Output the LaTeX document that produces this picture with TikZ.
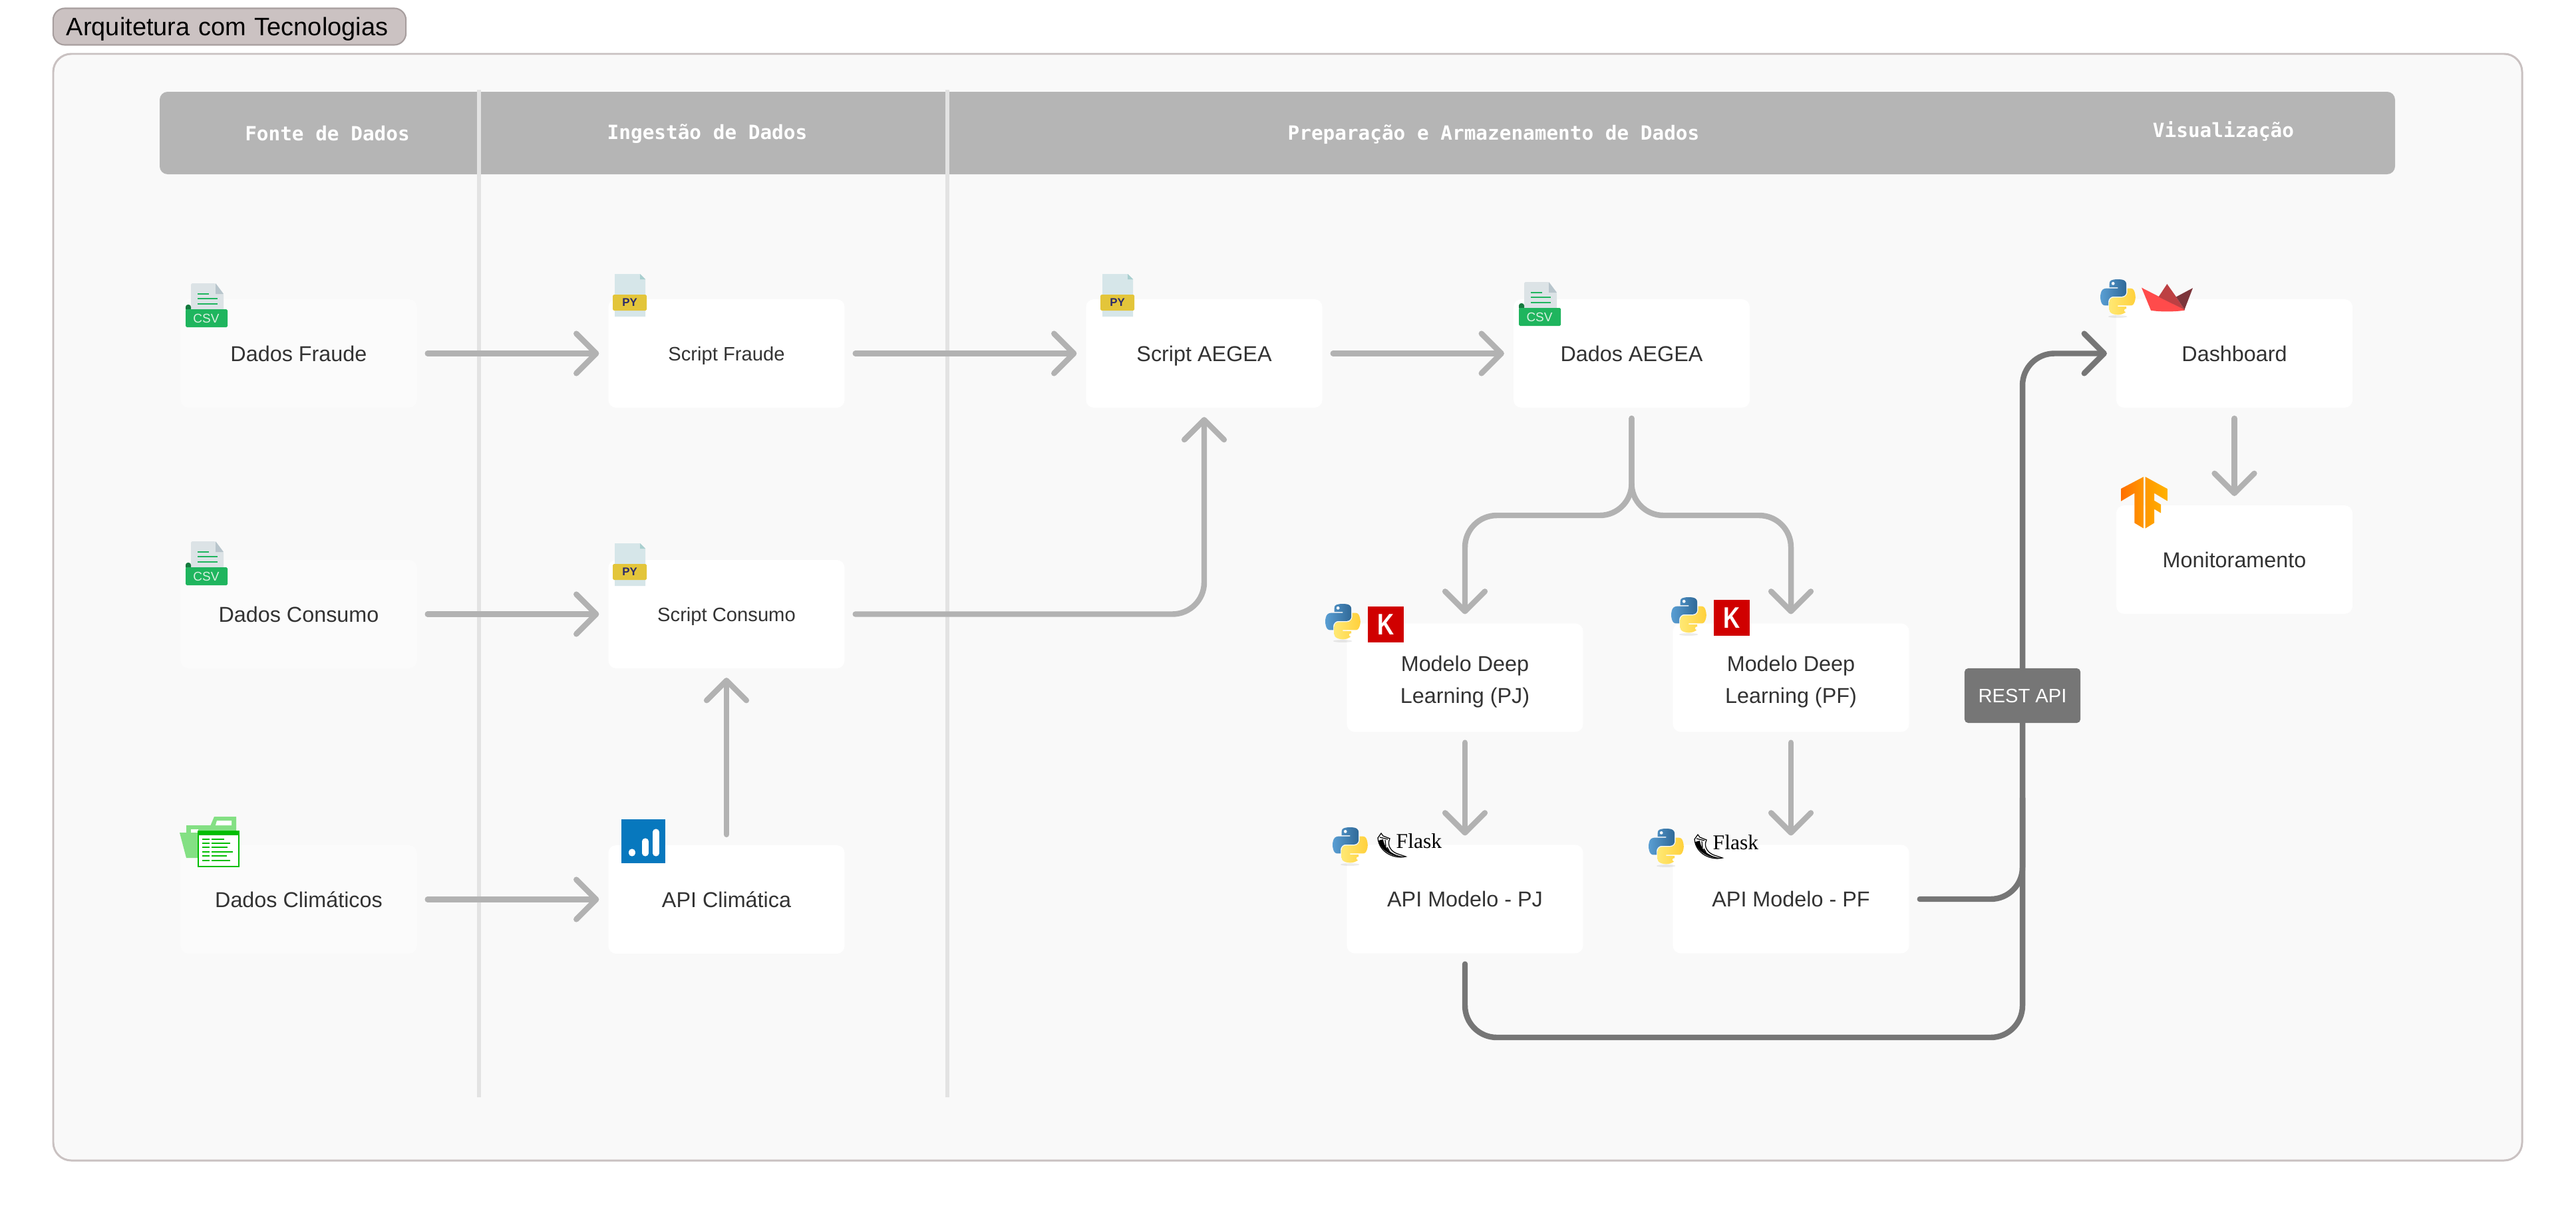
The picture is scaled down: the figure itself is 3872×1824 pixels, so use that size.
\documentclass[tikz,border=0pt]{standalone}
\usepackage{fontspec}
\setmainfont{Liberation Sans}
\newfontfamily\fontemono{DejaVu Sans Mono}
\newfontfamily\fonteserif{Liberation Serif}
\usetikzlibrary{arrows.meta}

\definecolor{painel}{HTML}{F9F9F9}
\definecolor{bordapainel}{HTML}{C9C1C1}
\definecolor{titulofundo}{HTML}{CBC2C2}
\definecolor{tituloborda}{HTML}{A79E9E}
\definecolor{cabecalho}{HTML}{B5B5B5}
\definecolor{divisor}{HTML}{E3E3E3}
\definecolor{caixaclara}{HTML}{FBFBFB}
\definecolor{texto}{HTML}{333333}
\definecolor{setaclara}{HTML}{B2B2B2}
\definecolor{setaescura}{HTML}{767676}
% cores dos icones
\definecolor{folhacsv}{HTML}{DCE3E6}
\definecolor{dobracsv}{HTML}{B8C5CC}
\definecolor{verdecsv}{HTML}{1FB55E}
\definecolor{abacsv}{HTML}{157A3F}
\definecolor{rotulocsv}{HTML}{D8F0E0}
\definecolor{folhapy}{HTML}{D6E6E9}
\definecolor{dobrapy}{HTML}{A9CFCF}
\definecolor{faixapy}{HTML}{E3C53A}
\definecolor{rotulopy}{HTML}{2B2B6B}
\definecolor{pastaclara}{HTML}{84E084}
\definecolor{pastaescura}{HTML}{00BD00}
\definecolor{azulgrafico}{HTML}{0778BE}
\definecolor{pythonazula}{HTML}{5A9FD4}
\definecolor{pythonazulb}{HTML}{306998}
\definecolor{pythonamarelaa}{HTML}{FFE873}
\definecolor{pythonamarelab}{HTML}{FFD03B}
\definecolor{vermelhokeras}{HTML}{D00000}
\definecolor{barcoa}{HTML}{FF4B4B}
\definecolor{barcob}{HTML}{BD4043}
\definecolor{barcoc}{HTML}{7D353B}
\definecolor{laranjaa}{HTML}{FF6F00}
\definecolor{laranjab}{HTML}{FF9800}
\definecolor{laranjac}{HTML}{FFB300}

\tikzset{
  caixadupla/.style={fill=white, rounded corners=3.4pt, minimum width=3.55cm, minimum height=1.63cm,
    inner sep=0pt, outer sep=0.14cm, text=texto, align=center, font=\fontsize{9.2}{13.7}\selectfont},
  caixa/.style={caixadupla, text height=6.6pt, text depth=0pt},
  caixafonte/.style={caixa, fill=caixaclara},
  caixascript/.style={caixa, text height=6pt, font=\fontsize{8.3}{12}\selectfont},
  tituloarea/.style={text=white, font=\fontemono\bfseries\fontsize{8.35}{10}\selectfont},
  fluxo/.style={draw=setaclara, line width=2.4pt, line cap=round, shorten <=0.6pt,
    -{Straight Barb[length=8.5pt,width=17pt,round]}},
  fluxoapi/.style={fluxo, draw=setaescura},
  trechoapi/.style={draw=setaescura, line width=2.4pt, line cap=round, shorten <=0.6pt},
  curva/.style={rounded corners=13.6pt},
  pics/csvicon/.style={code={
    \fill[folhacsv, rounded corners=0.5pt] (8,0) -- (45,0) -- (57,16) -- (57,42) -- (8,42) -- cycle;
    \fill[dobracsv] (45,0) -- (57,16) -- (45,16) -- cycle;
    \draw[verdecsv, line width=0.6pt] (18,16) -- (35,16) (18,23) -- (48,23) (18,31) -- (48,31);
    \fill[abacsv, rounded corners=1pt] (0,32) rectangle (8,42);
    \fill[verdecsv, rounded corners=0.5pt] (0,39) rectangle (63,66);
    \node[text=rotulocsv, inner sep=0pt, font=\fontsize{5.4}{6}\selectfont] (-rotulo) at (31,53) {CSV};
  }},
  pics/pyicon/.style={code={
    \fill[folhapy] (3,0) -- (41,0) -- (49,8) -- (49,64) -- (3,64) -- cycle;
    \fill[dobrapy] (41,0) -- (49,8) -- (41,8) -- cycle;
    \fill[faixapy, rounded corners=0.5pt] (0,31) rectangle (51,55);
    \node[text=rotulopy, inner sep=0pt, font=\bfseries\fontsize{4.8}{6}\selectfont] (-rotulo) at (25.5,43) {PY};
  }},
  pics/pastaicon/.style={code={
    \fill[pastaclara] (0,24) -- (10,24) -- (10,13) -- (46.5,13) -- (52,0) -- (85,0) -- (85,62) -- (10,62) -- cycle;
    \fill[white] (56,6) -- (78,6) -- (78,13) -- (54,13) -- cycle;
    \fill[white] (17,19) rectangle (28,24);
    \draw[fill=white, draw=pastaescura, line width=0.7pt] (28,22) rectangle (89,75);
    \fill[pastaescura] (28,22) rectangle (89,28);
    \foreach \ylin/\xfim in {34/67, 40/76, 46/72, 53/80, 59/71, 66/76} {
      \draw[pastaescura, line width=0.7pt] (34,\ylin) -- (45,\ylin) (48,\ylin) -- (\xfim,\ylin);
    }
  }},
  pics/graficoicon/.style={code={
    \fill[azulgrafico] (0,0) rectangle (66,66);
    \foreach \xbar/\ytop in {16/49, 36/33, 52/19} {
      \draw[white, line width=2.6pt, line cap=round] (\xbar,51) -- (\xbar,\ytop);
    }
  }},
  pics/pythonicon/.style={code={
    \begin{scope}[scale=0.475]
      \fill[black, opacity=0.08] (55,118) ellipse (30 and 4);
      \shade[left color=pythonazula, right color=pythonazulb]
        (54.9,0) .. controls (50.3,0) and (46,.4) .. (42.1,1.1) .. controls (30.8,3.1) and (28.7,7.3) .. (28.7,15)
        -- (28.7,25.3) -- (55.5,25.3) -- (55.5,28.7) -- (18.6,28.7) .. controls (10.8,28.7) and (4,33.3) .. (1.9,42.3)
        .. controls (-.6,52.5) and (-.7,58.8) .. (1.9,69.5) .. controls (3.8,77.4) and (8.3,83.1) .. (16.1,83.1)
        -- (25.4,83.1) -- (25.4,70.8) .. controls (25.4,62) and (33,54.2) .. (42.1,54.2) -- (68.9,54.2)
        .. controls (76.3,54.2) and (82.3,48) .. (82.3,40.6) -- (82.3,15) .. controls (82.3,7.8) and (76.2,2.3) .. (68.9,1.1)
        .. controls (64.3,.3) and (59.5,0) .. (54.9,0) -- cycle;
      \fill[white] (40.4,13.3) circle (5);
      \shade[left color=pythonamarelaa, right color=pythonamarelab]
        (85.6,28.7) -- (85.6,40.6) .. controls (85.6,49.8) and (77.8,57.6) .. (68.9,57.6) -- (42.1,57.6)
        .. controls (34.8,57.6) and (28.7,63.8) .. (28.7,71.2) -- (28.7,96.7) .. controls (28.7,104) and (35,108.3) .. (42.1,110.3)
        .. controls (50.6,112.8) and (58.7,113.3) .. (68.9,110.3) .. controls (75.6,108.4) and (82.3,104.5) .. (82.3,96.7)
        -- (82.3,86.5) -- (55.5,86.5) -- (55.5,83.1) -- (95.7,83.1) .. controls (103.5,83.1) and (106.4,77.7) .. (109.1,69.5)
        .. controls (111.9,61.1) and (111.8,53) .. (109.1,42.3) .. controls (107.2,34.5) and (103.5,28.7) .. (95.7,28.7) -- cycle;
      \fill[white] (80.6,98.4) circle (5);
    \end{scope}
  }},
  pics/kerasicon/.style={code={
    \node[fill=vermelhokeras, text=white, minimum size=0.54cm, inner sep=0pt, font=\bfseries\fontsize{12.7}{13}\selectfont] (-letra) at (27,27) {\scalebox{0.78}[1]{K}};
  }},
  pics/flaskicon/.style={code={
    \draw[fill=white, line width=0.35pt] (0,7) -- (5,0) -- (8,4) -- (18,8) .. controls (13,18) and (20,29) .. (33,32)
      -- (42,35) .. controls (26,39) and (2,30) .. (0,7) -- cycle;
    \fill[black] (1,11) .. controls (4,27) and (26,38) .. (42,35) .. controls (26,35) and (10,26) .. (8,9) -- cycle;
    \draw[line width=0.35pt] (3,6) -- (15,9) (11,10) -- (12,20) (14,21) -- (17,26);
    \node[anchor=base west, text=black, inner sep=0pt, font=\fonteserif\fontsize{9}{9}\selectfont] (-nome) at (27,22) {Flask};
  }},
  pics/streamliticon/.style={code={
    \fill[barcoa] (0,5.6) -- (64.8,38.8) -- (64,39.8) .. controls (48,42) and (28,42) .. (14,39.8) -- cycle;
    \fill[barcob] (25.5,19.4) -- (38.3,0) -- (52,19.4) -- (64.8,38.8) -- cycle;
    \fill[barcoc] (52,19.4) -- (77,6.1) -- (64,39.8) -- (64.8,38.8) -- cycle;
  }},
  pics/tensorflowicon/.style={code={
    \shade[left color=laranjaa, right color=laranjab] (34,0) -- (34,77.5) -- (20.4,69.4) -- (20.4,24.5) -- (0,36.7) -- (0,17.9) -- cycle;
    \shade[left color=laranjab, right color=laranjac] (36.7,0) -- (70.4,18.4) -- (70.4,36.7) -- (50,24.5) -- (50,35.7)
      -- (60.2,41.8) -- (60.2,54.6) -- (50,48.5) -- (50,69.4) -- (36.7,77.5) -- cycle;
  }},
}

\begin{document}
\begin{tikzpicture}[x=0.01cm, y=-0.01cm]
  \useasboundingbox (0,0) rectangle (3872,1824);
  \fill[white] (0,0) rectangle (3872,1824);

  % Painel e titulo
  \draw[fill=painel, draw=bordapainel, line width=0.85pt, rounded corners=7.7pt] (80,81) rectangle (3791,1745);
  \node[fill=titulofundo, draw=tituloborda, line width=0.6pt, rounded corners=5pt, inner xsep=0.2cm, inner ysep=0pt,
    text width=4.9cm, text height=7.8pt, text depth=0pt, minimum height=0.55cm, font=\fontsize{10.8}{13}\selectfont] (titulo) at (345,40) {Arquitetura com Tecnologias};

  % Cabecalho
  \fill[cabecalho, rounded corners=3.4pt] (240,138) rectangle (3600,262);
  \node[tituloarea] (fonte) at (492,201) {Fonte de Dados};
  \node[tituloarea] (ingestao) at (1063,201) {Ingestão de Dados};
  \node[tituloarea] (preparacao) at (2245,202) {Preparação e Armazenamento de Dados};
  \node[tituloarea] (visualizacao) at (3342,197) {Visualização};
  \draw[divisor, line width=1.7pt] (720,135) -- (720,1650);
  \draw[divisor, line width=1.7pt] (1424,135) -- (1424,1650);

  % Caixas
  \node[caixafonte] (dadosfraude) at (449,531.5) {Dados Fraude};
  \node[caixafonte] (dadosconsumo) at (449,923.5) {Dados Consumo};
  \node[caixafonte] (dadosclimaticos) at (449,1352.5) {Dados Climáticos};
  \node[caixascript] (scriptfraude) at (1092,531.5) {Script Fraude};
  \node[caixascript] (scriptconsumo) at (1092,923.5) {Script Consumo};
  \node[caixa] (apiclimatica) at (1092,1352.5) {API Climática};
  \node[caixa] (scriptaegea) at (1810,531.5) {Script AEGEA};
  \node[caixa] (dadosaegea) at (2452.5,531.5) {Dados AEGEA};
  \node[caixadupla] (modelopj) at (2202,1019) {\rule{0pt}{10pt}Modelo Deep\\Learning (PJ)};
  \node[caixadupla] (modelopf) at (2692,1019) {\rule{0pt}{10pt}Modelo Deep\\Learning (PF)};
  \node[caixa] (apipj) at (2202,1352) {API Modelo - PJ};
  \node[caixa] (apipf) at (2692,1352) {API Modelo - PF};
  \node[caixa] (dashboard) at (3358.5,531.5) {Dashboard};
  \node[caixa] (monitoramento) at (3358.5,841.5) {Monitoramento};

  \coordinate (bifurcacao) at (2452.5,775);
  \coordinate (juntapf) at (3040,1352);
  \coordinate (juntapj) at (3040,1560);
  \coordinate (juntaalta) at (3040,1200);

  % Setas claras
  \draw[fluxo] (dadosfraude) -- (scriptfraude);
  \draw[fluxo] (scriptfraude) -- (scriptaegea);
  \draw[fluxo] (scriptaegea) -- (dadosaegea);
  \draw[fluxo] (dadosconsumo) -- (scriptconsumo);
  \draw[fluxo] (dadosclimaticos) -- (apiclimatica);
  \draw[fluxo] (apiclimatica) -- (scriptconsumo);
  \draw[fluxo] (modelopj) -- (apipj);
  \draw[fluxo] (modelopf) -- (apipf);
  \draw[fluxo] (dashboard) -- (monitoramento);
  \draw[fluxo, curva] (scriptconsumo.east) -| (scriptaegea.south);
  \draw[fluxo, curva] (dadosaegea.south) -- (bifurcacao) -| (modelopj.north);
  \draw[fluxo, curva] (dadosaegea.south) -- (bifurcacao) -| (modelopf.north);

  % Setas escuras
  \draw[fluxoapi, curva] (apipf.east) -- (juntapf) |- (dashboard.west);
  \draw[trechoapi, curva] (apipj.south) |- (juntapj) -- (juntaalta);
  \node[fill=setaescura, text=white, rounded corners=1.5pt, minimum width=1.74cm, minimum height=0.82cm, inner sep=0pt,
    font=\fontsize{8.3}{10}\selectfont] (restapi) at (3040,1046) {REST API};

  % Icones
  \pic (csvfraude) at (279,426) {csvicon};
  \pic (csvconsumo) at (279,814) {csvicon};
  \pic (csvaegea) at (2283,424) {csvicon};
  \pic (pyfraude) at (921,412) {pyicon};
  \pic (pyconsumo) at (921,817) {pyicon};
  \pic (pyaegea) at (1654,412) {pyicon};
  \pic (pasta) at (270,1228) {pastaicon};
  \pic (grafico) at (934,1232) {graficoicon};
  \pic (pythonpj) at (1992,908) {pythonicon};
  \pic (pythonpf) at (2512,898) {pythonicon};
  \pic (kerasa) at (2056,912) {kerasicon};
  \pic (kerasb) at (2576,902) {kerasicon};
  \pic (pythonapipj) at (2003,1244) {pythonicon};
  \pic (pythonapipf) at (2478,1246) {pythonicon};
  \pic (flaskpj) at (2071,1253) {flaskicon};
  \pic (flaskpf) at (2547,1255) {flaskicon};
  \pic (pythondash) at (3157,420) {pythonicon};
  \pic (streamlit) at (3219,427) {streamliticon};
  \pic (tensorflow) at (3188,717) {tensorflowicon};
\end{tikzpicture}
\end{document}
